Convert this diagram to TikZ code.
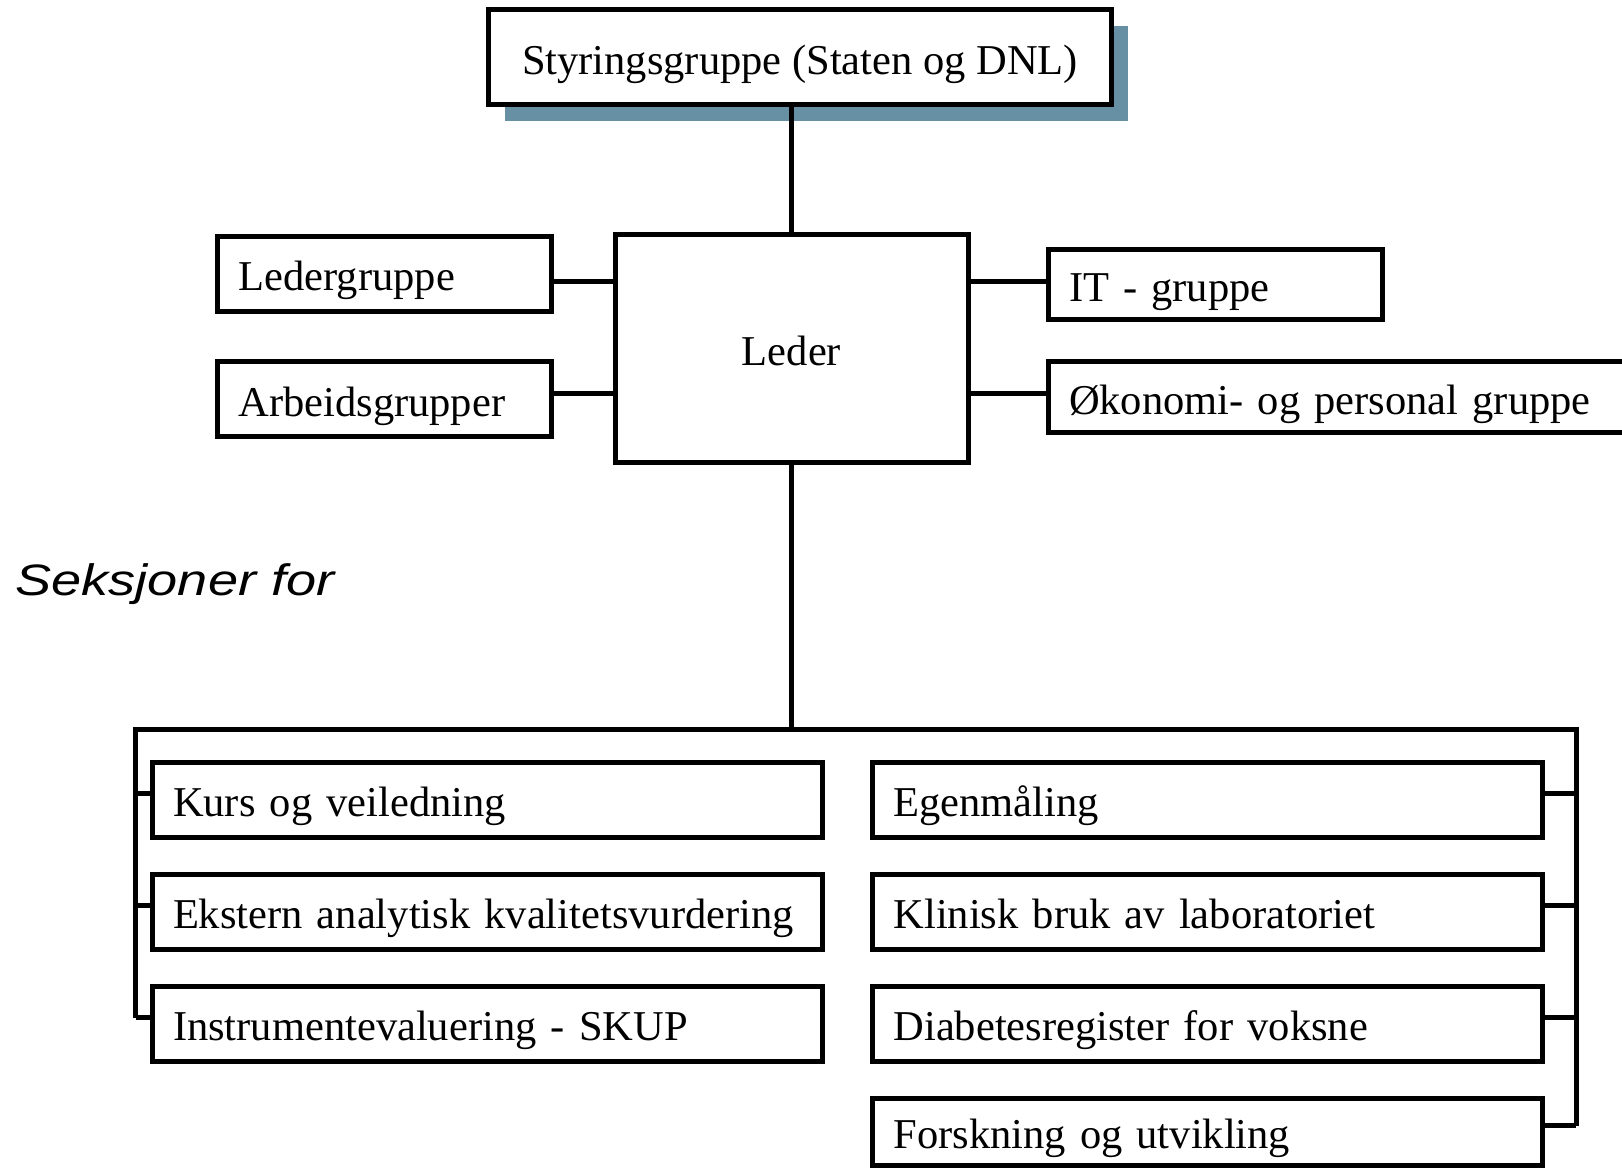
\documentclass[tikz,border=0pt]{standalone}
\usepackage{fontspec}
\setmainfont{Liberation Serif}
\setsansfont{Liberation Sans}
\usepackage{xcolor}
\usepackage{graphicx}
\definecolor{lineDark}{HTML}{000000}
\definecolor{shadowBlue}{HTML}{6890A5}
\usepackage{tikz}
\usetikzlibrary{positioning,shadows}
\newcommand{\boxFont}{\fontsize{42.5pt}{51pt}\selectfont}
\tikzset{%
  orgBox/.style={%
    rectangle,
    draw=lineDark,
    line width=5pt,
    fill=white,
    inner sep=0pt,
    outer sep=0pt,
    font=\boxFont,
    text height=36pt,
    text depth=2pt,
    align=center
  },
  topBox/.style={%
    orgBox,
    minimum width=623pt,
    minimum height=95pt,
    drop shadow={shadow xshift=16pt, shadow yshift=-16pt, fill=shadowBlue, opacity=1}
  },
  lederBox/.style={%
    orgBox,
    minimum width=353pt,
    minimum height=228pt
  },
  groupBox/.style={%
    orgBox,
    inner xsep=21pt,
    text width=292pt,
    align=left,
    minimum height=75pt
  },
  sectionBox/.style={%
    orgBox,
    inner xsep=21pt,
    text width=628pt,
    align=left,
    minimum height=75pt
  },
  connLine/.style={%
    draw=lineDark,
    line width=5pt
  }
}

\begin{document}
\begin{tikzpicture}[x=1pt,y=1pt]
            \useasboundingbox (0,0) rectangle (1622,-1168);
            \clip (0,0) rectangle (1622,-1168);

            \node[topBox] (styring) at (800,-57) {Styringsgruppe (Staten og DNL)};
            \node[lederBox] (leder) at (791.5,-348) {Leder};
            \node[groupBox, below left=2pt and 63.5pt of leder.north west] (ledergr) {Ledergruppe};
            \node[groupBox, below=50.5pt of ledergr] (arbeid) {Arbeidsgrupper};
            \node[groupBox, minimum height=70pt, below right=15.5pt and 80pt of leder.north east] (itgr) {IT - gruppe};
            \node[groupBox, minimum height=71pt, text width=550pt, below=42pt of itgr.south west, anchor=north west] (okonomi) {Økonomi- og personal gruppe};

            \node[anchor=base west, font=\fontsize{44pt}{52pt}\selectfont\sffamily\itshape] (seksjoner) at (12,-595) {\scalebox{1.23}[1]{Seksjoner for}};

            % seksjoner
            \node[sectionBox] (kurs) at (487,-799.5) {Kurs og veiledning};
            \node[sectionBox, below=37pt of kurs] (ekstern) {Ekstern analytisk kvalitetsvurdering};
            \node[sectionBox, below=37pt of ekstern] (skup) {Instrumentevaluering - SKUP};
            \node[sectionBox, right=50.5pt of kurs] (egen) {Egenmåling};
            \node[sectionBox, below=37pt of egen] (klinisk) {Klinisk bruk av laboratoriet};
            \node[sectionBox, below=37pt of klinisk] (diabetes) {Diabetesregister for voksne};
            \node[sectionBox, minimum height=67pt, below=37pt of diabetes] (forskning) {Forskning og utvikling};

            \coordinate (busL) at (135.5,-729);
            \coordinate (busR) at (1576,-729);

            \draw[connLine] (leder.north) -- (leder.north |- styring.south);
            \draw[connLine] ([yshift=-47pt]leder.north west) -- ([yshift=-47pt]leder.north west -| ledergr.east);
            \draw[connLine] ([yshift=-159pt]leder.north west) -- ([yshift=-159pt]leder.north west -| arbeid.east);
            \draw[connLine] ([yshift=-47pt]leder.north east) -- ([yshift=-47pt]leder.north east -| itgr.west);
            \draw[connLine] ([yshift=-159pt]leder.north east) -- ([yshift=-159pt]leder.north east -| okonomi.west);

            \draw[connLine] (leder.south) -- (leder.south |- busL);
            \draw[connLine] ([yshift=6pt]skup.west -| busL) -- (busL) -- (busR) -- ([yshift=6pt]forskning.east -| busR);
            \draw[connLine] ([yshift=6pt]kurs.west) -- ([yshift=6pt]kurs.west -| busL);
            \draw[connLine] ([yshift=6pt]ekstern.west) -- ([yshift=6pt]ekstern.west -| busL);
            \draw[connLine] ([yshift=6pt]skup.west) -- ([yshift=6pt]skup.west -| busL);
            \draw[connLine] ([yshift=6pt]egen.east) -- ([yshift=6pt]egen.east -| busR);
            \draw[connLine] ([yshift=6pt]klinisk.east) -- ([yshift=6pt]klinisk.east -| busR);
            \draw[connLine] ([yshift=6pt]diabetes.east) -- ([yshift=6pt]diabetes.east -| busR);
            \draw[connLine] ([yshift=6pt]forskning.east) -- ([yshift=6pt]forskning.east -| busR);
        \end{tikzpicture}
\end{document}
